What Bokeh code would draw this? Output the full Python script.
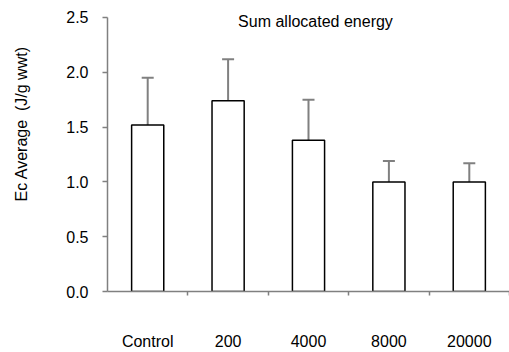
from bokeh.plotting import figure
from bokeh.models import (Range1d, FixedTicker, PrintfTickFormatter, ColumnDataSource,
                          Whisker, TeeHead, Label, LinearAxis)
from bokeh.embed import file_html
from bokeh.resources import INLINE

categories = ["Control", "200", "4000", "8000", "20000"]
means = [1.52, 1.74, 1.38, 1.00, 1.00]
errors = [0.43, 0.38, 0.37, 0.19, 0.17]
y_ticks = [0.0, 0.5, 1.0, 1.5, 2.0, 2.5]
boundaries = [1, 2, 3, 4, 5]
title_text = "Sum allocated energy"
y_label_text = "Ec Average\u00a0\u00a0(J/g wwt)"

FONT = "Liberation Sans"
FS = "16px"
AXIS_GRAY = "#808080"

xpos = [i + 0.5 for i in range(len(categories))]
upper = [m + e for m, e in zip(means, errors)]
src = ColumnDataSource(dict(x=xpos, mean=means, upper=upper, cat=categories))

p = figure(width=509, height=352, output_backend="svg", toolbar_location=None,
           x_range=Range1d(0, len(categories)), y_range=Range1d(0, 2.655),
           min_border_left=107, min_border_right=0, min_border_top=0, min_border_bottom=61)
p.outline_line_color = None
p.xgrid.grid_line_color = None
p.ygrid.grid_line_color = None
p.background_fill_color = "white"
p.border_fill_color = "white"

p.vbar(x="x", top="mean", bottom=0, width=0.4, source=src,
       fill_color="white", line_color="black", line_width=1.5)

wh = Whisker(base="x", lower="mean", upper="upper", source=src,
             line_color=AXIS_GRAY, line_width=2,
             lower_head=None,
             upper_head=TeeHead(size=12, line_color=AXIS_GRAY, line_width=2))
p.add_layout(wh)

# x axis: labels at bar centres, ticks at category boundaries (minor ticks)
xa = p.xaxis[0]
xa.ticker = FixedTicker(ticks=xpos, minor_ticks=boundaries)
xa.major_label_overrides = {x: c for x, c in zip(xpos, categories)}
xa.major_tick_line_color = None
xa.major_tick_in = 0
xa.major_tick_out = 0
xa.minor_tick_in = 0
xa.minor_tick_out = 4
xa.minor_tick_line_color = AXIS_GRAY
xa.minor_tick_line_width = 1.5
xa.axis_line_color = AXIS_GRAY
xa.axis_line_width = 1.5
xa.major_label_standoff = 37
xa.major_label_text_font = FONT
xa.major_label_text_font_size = FS
xa.major_label_text_color = "black"

# y axis
ya = p.yaxis[0]
ya.ticker = FixedTicker(ticks=y_ticks)
ya.bounds = (0, 2.5)
ya.formatter = PrintfTickFormatter(format="%.1f")
ya.major_tick_in = 0
ya.major_tick_out = 5
ya.major_tick_line_color = AXIS_GRAY
ya.major_tick_line_width = 1.5
ya.minor_tick_line_color = None
ya.axis_line_color = AXIS_GRAY
ya.axis_line_width = 1.5
ya.major_label_standoff = 14
ya.major_label_text_font = FONT
ya.major_label_text_font_size = FS
ya.major_label_text_color = "black"

# y axis title on its own axis; leading no-break spaces lift it off-centre
yl = LinearAxis(ticker=FixedTicker(ticks=[]), axis_label="\u00a0" * 10 + y_label_text)
yl.axis_line_color = None
yl.major_tick_line_color = None
yl.minor_tick_line_color = None
yl.major_tick_out = 0
yl.major_tick_in = 0
yl.axis_label_standoff = 34
yl.axis_label_text_font = FONT
yl.axis_label_text_font_size = FS
yl.axis_label_text_font_style = "normal"
yl.axis_label_text_color = "black"
p.add_layout(yl, "left")

p.add_layout(Label(x=2.587, y=2.464, text=title_text, text_align="center",
                   text_baseline="alphabetic", text_font=FONT, text_font_size=FS,
                   text_color="black"))

open("out.html", "w").write(file_html(p, INLINE))
